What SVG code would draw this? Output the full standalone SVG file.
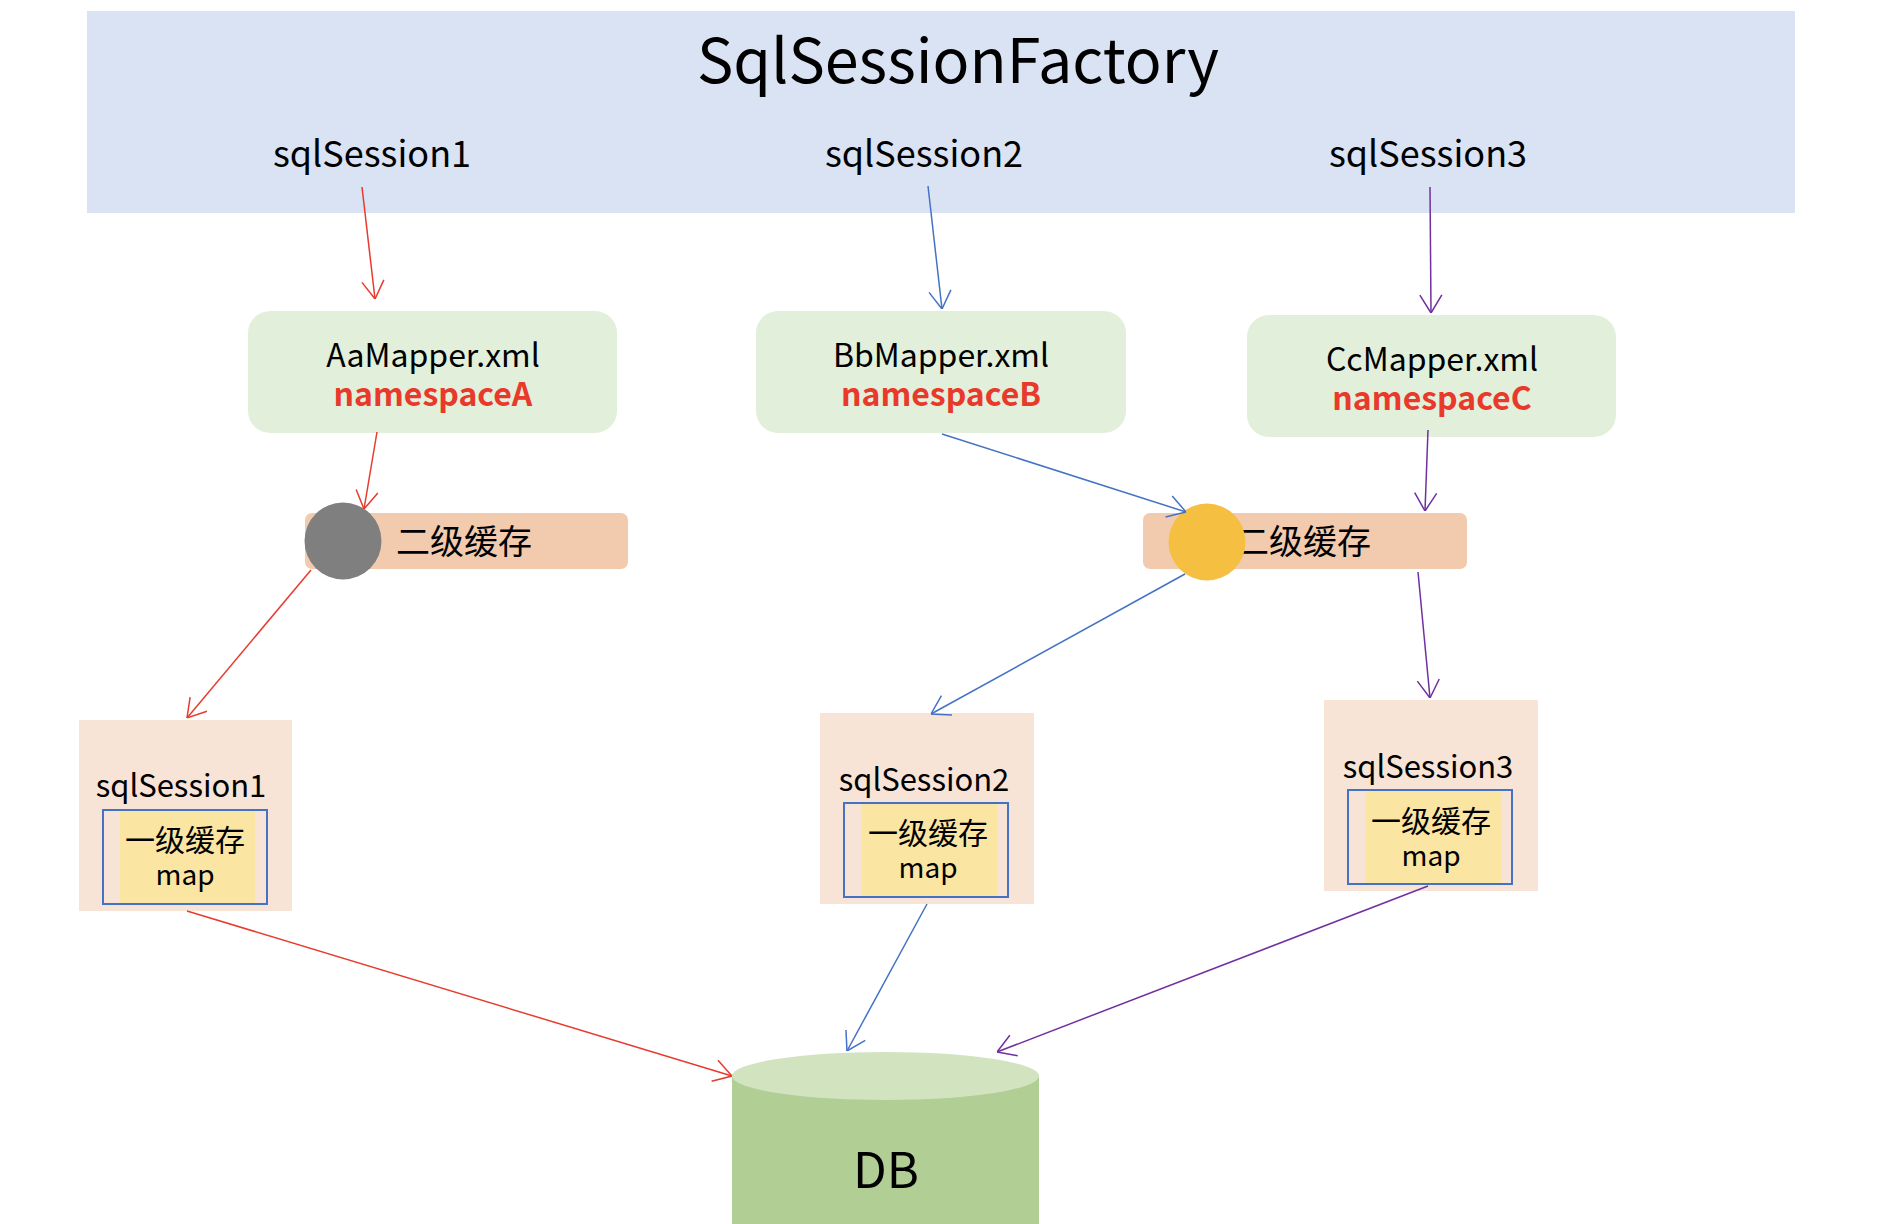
<svg xmlns="http://www.w3.org/2000/svg" width="1878" height="1224" viewBox="0 0 1878 1224">
<style>
text{font-family:"Noto Sans CJK SC","Liberation Sans",sans-serif;fill:#000;text-anchor:middle}
.title{font-size:61px}
.sess{font-size:36px}
.mapper{font-size:32px}
.ns{font-size:32px;font-weight:bold;fill:#E8392B}
.l2{font-size:34px;text-anchor:start}
.s{font-size:31px}
.l1{font-size:30px}
.m{font-size:28px}
.db{font-size:49px}
.mbox{fill:#E2EFDA}
.bar{fill:#F2CBAF}
.sbox{fill:#F7E4D7}
.bord{fill:none;stroke:#4472C4;stroke-width:2}
.yel{fill:#FBE5A2}
.c{fill:none;stroke-width:1.5}
.r{stroke:#E83A2D}
.b{stroke:#4472C4}
.p{stroke:#7030A0}
</style>
<defs>
<marker id="ar" viewBox="0 0 20 24" refX="20" refY="12" markerWidth="20" markerHeight="24" markerUnits="userSpaceOnUse" orient="auto"><path d="M2,1 L20,12 L2,23" fill="none" stroke="#E83A2D" stroke-width="1.5"/></marker>
<marker id="ab" viewBox="0 0 20 24" refX="20" refY="12" markerWidth="20" markerHeight="24" markerUnits="userSpaceOnUse" orient="auto"><path d="M2,1 L20,12 L2,23" fill="none" stroke="#4472C4" stroke-width="1.5"/></marker>
<marker id="ap" viewBox="0 0 20 24" refX="20" refY="12" markerWidth="20" markerHeight="24" markerUnits="userSpaceOnUse" orient="auto"><path d="M2,1 L20,12 L2,23" fill="none" stroke="#7030A0" stroke-width="1.5"/></marker>
</defs>
<rect width="1878" height="1224" fill="#fff"/>
<g id="factory">
<rect x="87" y="11" width="1708" height="202" fill="#DAE3F3"/>
<text class="title" x="958" y="83">SqlSessionFactory</text>
<text class="sess" x="372" y="167">sqlSession1</text>
<text class="sess" x="924" y="167">sqlSession2</text>
<text class="sess" x="1428" y="167">sqlSession3</text>
</g>
<g id="mapperA">
<rect class="mbox" x="248" y="311" width="369" height="122" rx="22"/>
<text class="mapper" x="433" y="367">AaMapper.xml</text>
<text class="ns" x="433" y="406">namespaceA</text>
</g>
<g id="mapperB">
<rect class="mbox" x="756" y="311" width="370" height="122" rx="22"/>
<text class="mapper" x="941" y="367">BbMapper.xml</text>
<text class="ns" x="941" y="406">namespaceB</text>
</g>
<g id="mapperC">
<rect class="mbox" x="1247" y="315" width="369" height="122" rx="22"/>
<text class="mapper" x="1432" y="371">CcMapper.xml</text>
<text class="ns" x="1432" y="410">namespaceC</text>
</g>
<g id="cacheA">
<rect class="bar" x="305" y="513" width="323" height="56" rx="7"/>
<text class="l2" x="396" y="554">二级缓存</text>
<circle cx="343" cy="541" r="38.5" fill="#7F7F7F"/>
</g>
<g id="cacheB">
<rect class="bar" x="1143" y="513" width="324" height="56" rx="7"/>
<text class="l2" x="1235" y="554">二级缓存</text>
<circle cx="1207" cy="542" r="38.5" fill="#F5BF41"/>
</g>
<g id="session1">
<rect class="sbox" x="79" y="720" width="213" height="191"/>
<text class="s" x="181" y="797">sqlSession1</text>
<rect class="yel" x="120" y="811" width="135" height="92"/>
<rect class="bord" x="103" y="810" width="164" height="94"/>
<text class="l1" x="185" y="851">一级缓存</text>
<text class="m" x="185" y="885">map</text>
</g>
<g id="session2">
<rect class="sbox" x="820" y="713" width="214" height="191"/>
<text class="s" x="924" y="791">sqlSession2</text>
<rect class="yel" x="861" y="804" width="136" height="92"/>
<rect class="bord" x="844" y="803" width="164" height="94"/>
<text class="l1" x="928" y="844">一级缓存</text>
<text class="m" x="928" y="878">map</text>
</g>
<g id="session3">
<rect class="sbox" x="1324" y="700" width="214" height="191"/>
<text class="s" x="1428" y="778">sqlSession3</text>
<rect class="yel" x="1365" y="791" width="136" height="92"/>
<rect class="bord" x="1348" y="790" width="164" height="94"/>
<text class="l1" x="1431" y="832">一级缓存</text>
<text class="m" x="1431" y="866">map</text>
</g>
<g id="db">
<rect x="732" y="1076" width="307" height="150" fill="#B1CE95"/>
<ellipse cx="885.5" cy="1076" rx="153.5" ry="24" fill="#D2E3C0"/>
<text class="db" x="886" y="1188">DB</text>
</g>
<g id="connectors">
<line class="c r" x1="362" y1="187" x2="375" y2="299" marker-end="url(#ar)"/>
<line class="c b" x1="928" y1="186" x2="942" y2="309" marker-end="url(#ab)"/>
<line class="c p" x1="1430" y1="187" x2="1431" y2="313" marker-end="url(#ap)"/>
<line class="c r" x1="377" y1="432" x2="364" y2="509" marker-end="url(#ar)"/>
<line class="c b" x1="942" y1="434" x2="1186" y2="512" marker-end="url(#ab)"/>
<line class="c p" x1="1428" y1="430" x2="1425" y2="511" marker-end="url(#ap)"/>
<line class="c r" x1="311" y1="570" x2="187" y2="718" marker-end="url(#ar)"/>
<line class="c b" x1="1185" y1="574" x2="931" y2="714" marker-end="url(#ab)"/>
<line class="c p" x1="1418" y1="572" x2="1430" y2="698" marker-end="url(#ap)"/>
<line class="c r" x1="187" y1="911" x2="732" y2="1076" marker-end="url(#ar)"/>
<line class="c b" x1="927" y1="904" x2="847" y2="1051" marker-end="url(#ab)"/>
<line class="c p" x1="1428" y1="886" x2="997" y2="1052" marker-end="url(#ap)"/>
</g>
</svg>
